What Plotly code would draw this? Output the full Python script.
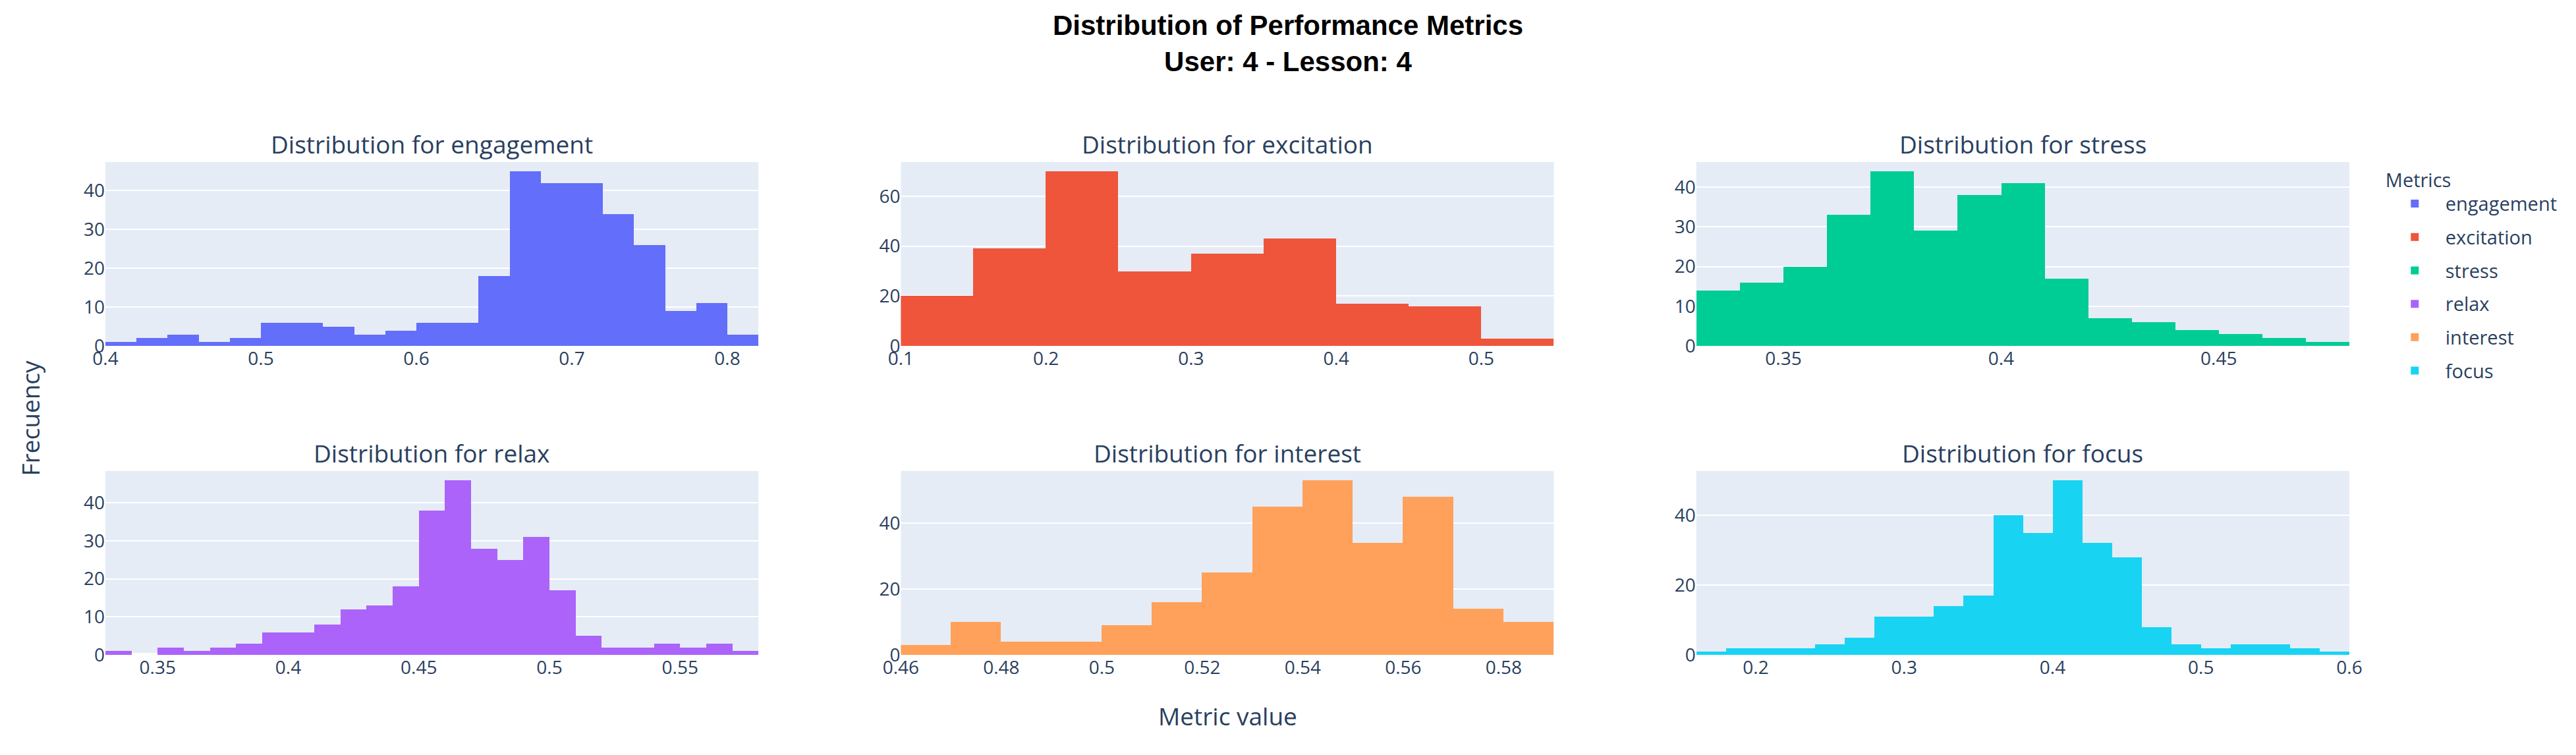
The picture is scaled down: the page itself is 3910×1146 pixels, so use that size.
import numpy as np
import plotly.graph_objects as go
from plotly.subplots import make_subplots

# ---------------- data ----------------
metrics = ["engagement", "excitation", "stress", "relax", "interest", "focus"]

engagement_bin_start = 0.40
engagement_bin_size = 0.02
engagement_counts = [1, 2, 3, 1, 2, 6, 6, 5, 3, 4, 6, 6, 18, 45, 42, 42, 34, 26, 9, 11, 3]

excitation_bin_start = 0.10
excitation_bin_size = 0.05
excitation_counts = [20, 39, 70, 30, 37, 43, 17, 16, 3]

stress_bin_start = 0.33
stress_bin_size = 0.01
stress_counts = [14, 16, 20, 33, 44, 29, 38, 41, 17, 7, 6, 4, 3, 2, 1]

relax_bin_start = 0.33
relax_bin_size = 0.01
relax_counts = [1, 0, 2, 1, 2, 3, 6, 6, 8, 12, 13, 18, 38, 46, 28, 25, 31, 17, 5, 2, 2, 3, 2, 3, 1]

interest_bin_start = 0.46
interest_bin_size = 0.01
interest_counts = [3, 10, 4, 4, 9, 16, 25, 45, 53, 34, 48, 14, 10]

focus_bin_start = 0.16
focus_bin_size = 0.02
focus_counts = [1, 2, 2, 2, 3, 5, 11, 11, 14, 17, 40, 35, 50, 32, 28, 8, 3, 2, 3, 3, 2, 1]

title_line1 = "Distribution of Performance Metrics"
title_line2 = "User: 4 - Lesson: 4"
x_axis_title = "Metric value"
y_axis_title = "Frecuency"
legend_title = "Metrics"

# ---------------- styling ----------------
S = 2.33
colors = ["#636efa", "#EF553B", "#00cc96", "#ab63fa", "#FFA15A", "#19d3f3"]
x_dticks = [0.1, 0.1, 0.05, 0.05, 0.02, 0.1]
y_dticks = [10, 20, 10, 10, 20, 20]

hist_data = {
    "engagement": (engagement_bin_start, engagement_bin_size, engagement_counts),
    "excitation": (excitation_bin_start, excitation_bin_size, excitation_counts),
    "stress": (stress_bin_start, stress_bin_size, stress_counts),
    "relax": (relax_bin_start, relax_bin_size, relax_counts),
    "interest": (interest_bin_start, interest_bin_size, interest_counts),
    "focus": (focus_bin_start, focus_bin_size, focus_counts),
}

fig = make_subplots(
    rows=2, cols=3,
    subplot_titles=[f"Distribution for {m}" for m in metrics],
    horizontal_spacing=0.0635,
    vertical_spacing=0.2535,
)

for i, m in enumerate(metrics):
    start, size, counts = hist_data[m]
    n = len(counts)
    edges = np.round(start + size * np.arange(n), 6)
    r, c = i // 3 + 1, i % 3 + 1
    fig.add_trace(
        go.Bar(
            x=edges, y=counts, width=size, offset=0,
            name=m, legendgroup=m,
            marker=dict(color=colors[i], line=dict(width=0)),
        ),
        row=r, col=c,
    )
    fig.update_xaxes(
        range=[start, start + size * n], tick0=0, dtick=x_dticks[i],
        showgrid=False, zeroline=False,
        tickfont=dict(size=28), row=r, col=c,
    )
    fig.update_yaxes(
        dtick=y_dticks[i], gridwidth=1 * S, zerolinewidth=2 * S,
        tickfont=dict(size=28), row=r, col=c,
    )

fig.update_annotations(font=dict(size=37, color="#2a3f5f"))

fig.add_annotation(
    text=x_axis_title, x=0.5, y=-0.124, xref="paper", yref="paper",
    xanchor="center", yanchor="middle", showarrow=False,
    font=dict(size=37, color="#2a3f5f"),
)
fig.add_annotation(
    text=y_axis_title, x=-0.0336, y=0.48, xref="paper", yref="paper",
    xanchor="center", yanchor="middle", textangle=-90, showarrow=False,
    font=dict(size=37, color="#2a3f5f"),
)

fig.update_layout(
    template="plotly",
    font=dict(family="Open Sans, verdana, arial, sans-serif", size=28, color="#2a3f5f"),
    title=dict(
        text=f"<b>{title_line1}</b><br><b>{title_line2}</b>",
        x=0.5, xanchor="center", y=0.96, yanchor="top",
        font=dict(family="Arial, Liberation Sans, sans-serif", size=42, color="black"),
    ),
    bargap=0,
    margin=dict(l=152, r=336, t=238, b=144),
    legend=dict(
        title=dict(text=legend_title, font=dict(size=29)),
        font=dict(size=29),
        x=1.0155, y=1, xanchor="left", yanchor="top",
        itemwidth=83,
    ),
    plot_bgcolor="#E5ECF6",
    paper_bgcolor="white",
)

fig.write_html("out.html")
